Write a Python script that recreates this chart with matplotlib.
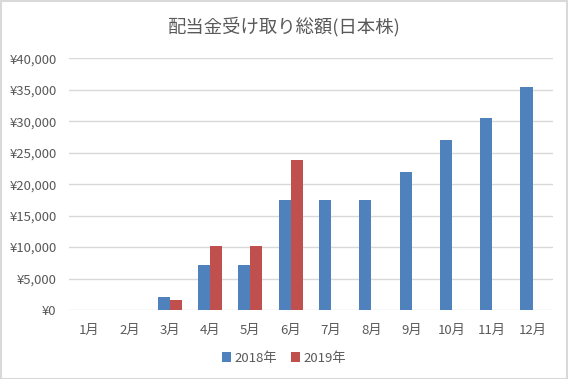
import numpy as np
import matplotlib.pyplot as plt
from matplotlib.patches import Rectangle

plt.rcParams['font.family'] = ['Noto Sans CJK JP', 'DejaVu Sans']

months = ['1月', '2月', '3月', '4月', '5月', '6月', '7月', '8月', '9月', '10月', '11月', '12月']
v2018 = [0, 0, 2100, 7200, 7200, 17500, 17500, 17500, 21900, 27100, 30500, 35400]
v2019 = [0, 0, 1600, 10200, 10200, 23900, np.nan, np.nan, np.nan, np.nan, np.nan, np.nan]
series_names = ['2018年', '2019年']

text_color = '#595959'
fig = plt.figure(figsize=(5.68, 3.79), dpi=100)
ax = fig.add_axes([0.1215, 0.182, 0.8515, 0.664])

x = np.arange(len(months))
w = 0.3
ax.bar(x - w / 2, v2018, w, color='#4F81BD', label=series_names[0], zorder=3)
ax.bar(x + w / 2, v2019, w, color='#C0504D', label=series_names[1], zorder=3)

ax.set_xlim(-0.5, len(months) - 0.5)
ax.set_ylim(0, 40000)
ax.set_yticks(np.arange(0, 40001, 5000))
ax.set_yticklabels(['¥{:,}'.format(v) for v in range(0, 40001, 5000)])
ax.set_xticks(x)
ax.set_xticklabels(months)
ax.grid(axis='y', color='#D9D9D9', linewidth=1, zorder=0)
ax.set_axisbelow(True)
for s in ax.spines.values():
    s.set_visible(False)
ax.tick_params(length=0, labelsize=9.5, colors=text_color)
ax.tick_params(axis='x', pad=10)
ax.tick_params(axis='y', pad=9)

fig.suptitle('配当金受け取り総額(日本株)', fontsize=13.2, color=text_color, y=0.955)

leg = fig.legend(loc='center', bbox_to_anchor=(0.5, 0.055), ncol=2, frameon=False,
                 fontsize=9.5, handlelength=0.7, handleheight=0.7, handletextpad=0.3,
                 columnspacing=1.0)
for t in leg.get_texts():
    t.set_color(text_color)

fig.patches.append(Rectangle((0.001, 0.001), 0.997, 0.997, transform=fig.transFigure,
                             fill=False, edgecolor='#D9D9D9', linewidth=1.5))

fig.savefig('out.png', dpi=100)
